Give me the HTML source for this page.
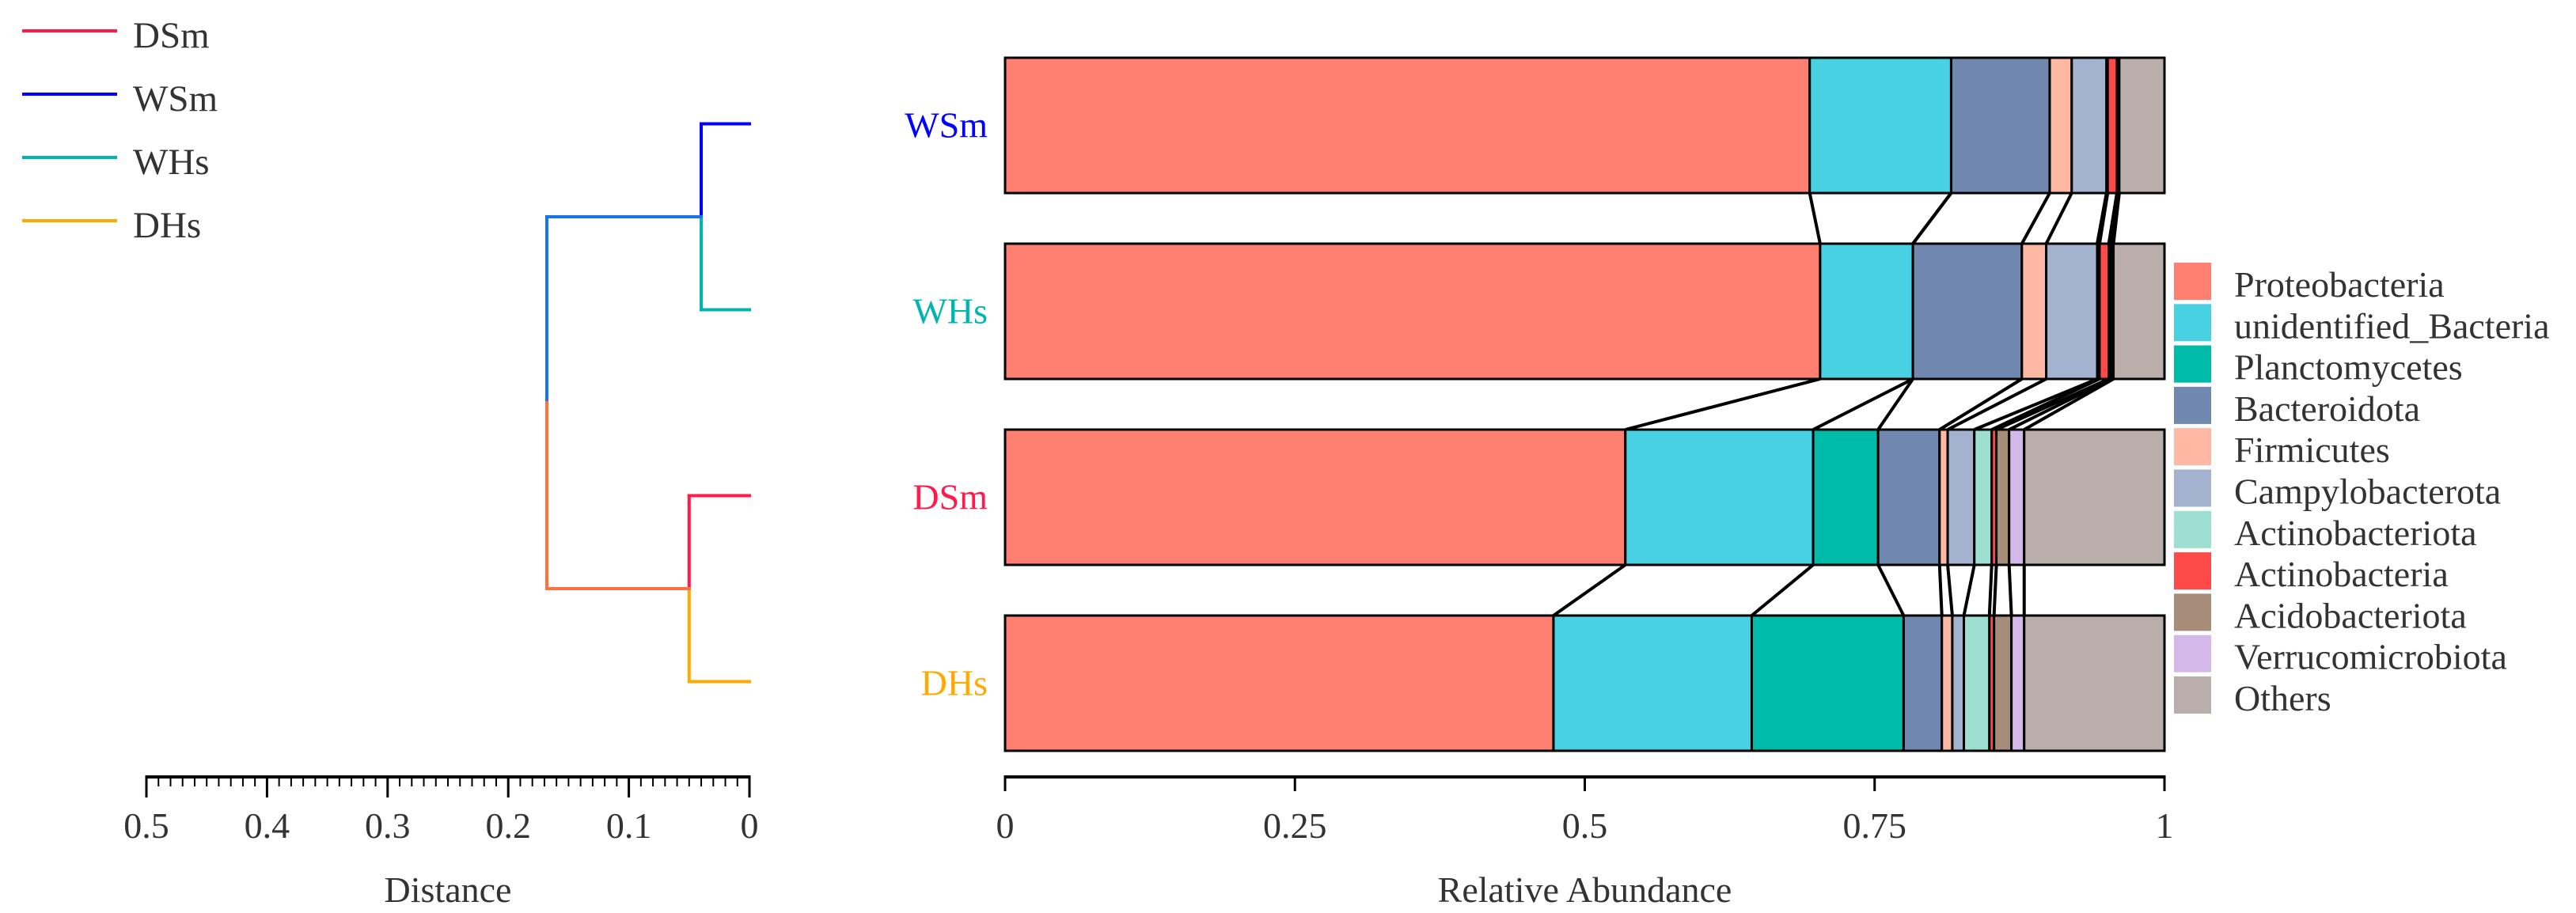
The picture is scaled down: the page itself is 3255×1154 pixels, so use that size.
<!DOCTYPE html>
<html><head><meta charset="utf-8"><style>
html,body{margin:0;padding:0;background:#fff;}
svg{display:block;}
svg text{font-family:"Liberation Serif","DejaVu Serif",serif;}
</style></head><body>
<svg id="chart" width="3255" height="1154" viewBox="0 0 3255 1154" xmlns="http://www.w3.org/2000/svg" font-family="Liberation Serif, DejaVu Serif, serif">
<g id="dendro"></g>
<g id="dendro-axis" font-family="Liberation Serif, serif"></g>
<g id="left-legend" font-family="Liberation Serif, serif"></g>
<g id="bars" font-family="Liberation Serif, serif"></g>
<g id="bar-axis" font-family="Liberation Serif, serif"></g>
<g id="right-legend" font-family="Liberation Serif, serif"></g>
</svg>
<script>
const samples = ["WSm","WHs","DSm","DHs"];
const sampleColors = ["#0000ff","#00b5ad","#ff1a4b","#ffaa00"];
const taxa = ["Proteobacteria","unidentified_Bacteria","Planctomycetes","Bacteroidota","Firmicutes","Campylobacterota","Actinobacteriota","Actinobacteria","Acidobacteriota","Verrucomicrobiota","Others"];
const taxaColors = ["#ff8070","#48d1e2","#00bba8","#7088b0","#ffb8a3","#a3b3cf","#9de0d2","#ff4a4a","#a88c7a","#d4b8ea","#b9aeaa"];
const valWSm = [0.694,0.122,0.000,0.085,0.019,0.030,0.001,0.008,0.001,0.001,0.039];
const valWHs = [0.703,0.080,0.000,0.094,0.021,0.044,0.002,0.008,0.002,0.002,0.044];
const valDSm = [0.535,0.162,0.056,0.053,0.007,0.023,0.015,0.004,0.011,0.013,0.121];
const valDHs = [0.473,0.171,0.131,0.033,0.009,0.010,0.022,0.004,0.015,0.011,0.121];
const values = [valWSm,valWHs,valDSm,valDHs];
const abundanceTicks = [0,0.25,0.5,0.75,1];
const abundanceTickLabels = ["0","0.25","0.5","0.75","1"];
const distanceTicks = [0.5,0.4,0.3,0.2,0.1,0];
const distanceTickLabels = ["0.5","0.4","0.3","0.2","0.1","0"];
const legendSamples = ["DSm","WSm","WHs","DHs"];
const legendSampleColors = ["#ff1a4b","#0000ff","#00b5ad","#ffaa00"];
const mergeWest = 0.040, mergeDry = 0.050, mergeRoot = 0.168;

const NS="http://www.w3.org/2000/svg";
const FF='Liberation Serif, DejaVu Serif, serif';
function mk(parent,tag,attrs,text){const e=document.createElementNS(NS,tag);for(const k in attrs)e.setAttribute(k,attrs[k]);if(tag==='text')e.setAttribute('font-family',FF);if(text!==undefined)e.textContent=text;parent.appendChild(e);return e;}
const X0=1270,X1=2735;
const xA=v=>X0+(X1-X0)*v;
const barTop=i=>73+i*235, BH=171;
const D0=947, D05=185;
const xD=d=>D0-(D0-D05)*(d/0.5);
const leafY=i=>barTop(i)+BH/2-2;

const bars=document.getElementById('bars');
const bounds=[];
values.forEach((vals,i)=>{
  let c=0; const b=[0];
  vals.forEach((v,j)=>{
    const r=mk(bars,'rect',{x:xA(c),y:barTop(i),width:Math.max(xA(c+v)-xA(c),0),height:BH,fill:taxaColors[j],stroke:'#000','stroke-width':3});
    
    
    c+=v; b.push(c);
  });
  bounds.push(b);
  const t=mk(bars,'text',{x:1248,y:barTop(i)+BH/2+15,'text-anchor':'end','font-size':46,fill:sampleColors[i]},samples[i]);
  
  
});
for(let i=0;i<values.length-1;i++){
  for(let k=1;k<taxa.length;k++){
    const l=mk(bars,'line',{x1:xA(Math.min(bounds[i][k],1)),y1:barTop(i)+BH,x2:xA(Math.min(bounds[i+1][k],1)),y2:barTop(i+1),stroke:'#000','stroke-width':4});
    
    
  }
}
const ba=document.getElementById('bar-axis');
mk(ba,'line',{x1:X0-1.5,y1:982,x2:X1+1.5,y2:982,stroke:'#000','stroke-width':4});
abundanceTicks.forEach((v,i)=>{
  mk(ba,'line',{x1:xA(v),y1:982,x2:xA(v),y2:1000,stroke:'#000','stroke-width':3});
  const t=mk(ba,'text',{x:xA(v),y:1059,'text-anchor':'middle','font-size':46,fill:'#333'},abundanceTickLabels[i]);
  
  
});
const bt=mk(ba,'text',{x:(X0+X1)/2,y:1140,'text-anchor':'middle','font-size':46,fill:'#333'},'Relative Abundance');



const dg=document.getElementById('dendro');
function seg(x1,y1,x2,y2,c,name){const l=mk(dg,'line',{x1,y1,x2,y2,stroke:c,'stroke-width':4,'stroke-linecap':'square'});}
const yW=(leafY(0)+leafY(1))/2, yD=(leafY(2)+leafY(3))/2, yR=(yW+yD)/2;
seg(xD(0),leafY(0),xD(mergeWest),leafY(0),'#0000ff','branch-WSm');
seg(xD(mergeWest),leafY(0),xD(mergeWest),yW,'#0000ff','branch-WSm-vertical');
seg(xD(0),leafY(1),xD(mergeWest),leafY(1),'#00b5ad','branch-WHs');
seg(xD(mergeWest),leafY(1),xD(mergeWest),yW,'#00b5ad','branch-WHs-vertical');
seg(xD(0),leafY(2),xD(mergeDry),leafY(2),'#ff1a4b','branch-DSm');
seg(xD(mergeDry),leafY(2),xD(mergeDry),yD,'#ff1a4b','branch-DSm-vertical');
seg(xD(0),leafY(3),xD(mergeDry),leafY(3),'#ffaa00','branch-DHs');
seg(xD(mergeDry),leafY(3),xD(mergeDry),yD,'#ffaa00','branch-DHs-vertical');
seg(xD(mergeWest),yW,xD(mergeRoot),yW,'#1a73e8','branch-W-cluster');
seg(xD(mergeRoot),yW,xD(mergeRoot),yR,'#1a73e8','root-upper');
seg(xD(mergeDry),yD,xD(mergeRoot),yD,'#ff7043','branch-D-cluster');
seg(xD(mergeRoot),yD,xD(mergeRoot),yR,'#ff7043','root-lower');

const da=document.getElementById('dendro-axis');
mk(da,'line',{x1:D05-1.5,y1:982,x2:D0+1.5,y2:982,stroke:'#000','stroke-width':4});
for(let k=0;k<=50;k++){const d=k*0.01;const major=k%10===0;
  mk(da,'line',{x1:xD(d),y1:982,x2:xD(d),y2:major?1008:994,stroke:'#000','stroke-width':major?3:2});}
distanceTicks.forEach((d,i)=>{
  const t=mk(da,'text',{x:xD(d),y:1059,'text-anchor':'middle','font-size':46,fill:'#333'},distanceTickLabels[i]);
  
  
});
const dt=mk(da,'text',{x:(D0+D05)/2,y:1140,'text-anchor':'middle','font-size':46,fill:'#333'},'Distance');



const ll=document.getElementById('left-legend');
legendSamples.forEach((s,i)=>{
  const y=39+i*80;
  const g=mk(ll,'g',{});
  
  
  mk(g,'line',{x1:28,y1:y,x2:148,y2:y,stroke:legendSampleColors[i],'stroke-width':4});
  mk(g,'text',{x:168,y:y+21,'font-size':47,fill:'#333'},s);
});
const rl=document.getElementById('right-legend');
taxa.forEach((t,i)=>{
  const y=332+i*52.3;
  const g=mk(rl,'g',{});
  
  
  mk(g,'rect',{x:2747,y:y,width:47,height:47,fill:taxaColors[i]});
  mk(g,'text',{x:2823,y:y+43,'font-size':46,fill:'#333'},t);
});
</script>
</body></html>
